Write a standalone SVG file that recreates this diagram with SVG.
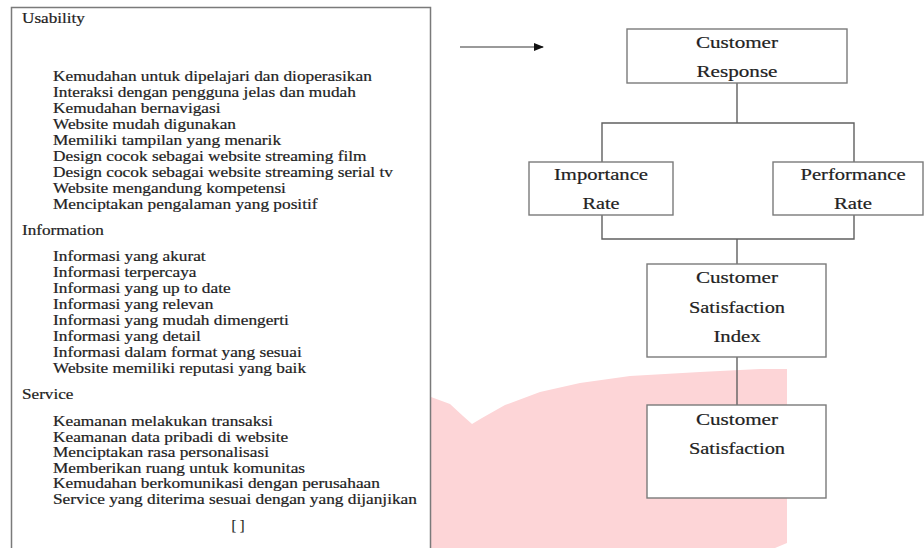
<svg xmlns="http://www.w3.org/2000/svg" width="924" height="548" viewBox="0 0 924 548">
<defs>
<style>
.t{font-family:"Liberation Serif","Times New Roman",serif;font-size:14.3px;fill:#222;stroke:#222;stroke-width:0.2}
.n{font-family:"Liberation Serif","Times New Roman",serif;font-size:16px;fill:#222;stroke:#222;stroke-width:0.2;text-anchor:middle}
.box{fill:#fff;stroke:#7a7a7a;stroke-width:1.4}
.c{fill:none;stroke:#606060;stroke-width:1.4}
</style>
<marker id="ah" markerWidth="10" markerHeight="8" refX="9" refY="4" orient="auto" markerUnits="userSpaceOnUse">
<path d="M0,0 L10,4 L0,8 Z" fill="#111"/>
</marker>
</defs>
<rect width="924" height="548" fill="#fff"/>
<path d="M431,397 L450,404 L463,416 L472,424 L482,418 L505,405 L540,392 L580,383 L630,376 L700,372 L760,369 L787,369 L787,543 L775,548 L431,548 Z" fill="#fdd5d7"/>
<g id="left-panel">
<rect x="11.5" y="7.5" width="419" height="560" fill="none" stroke="#7a7a7a" stroke-width="1.5"/>
<g transform="translate(22 0) scale(1.2 1)">
<text class="t" x="0" y="23">Usability</text>
<text class="t" x="0" y="235">Information</text>
<text class="t" x="0" y="399">Service</text>
</g>
<g transform="translate(53 0) scale(1.21 1)">
<text class="t" x="0" y="81">Kemudahan untuk dipelajari dan dioperasikan</text>
<text class="t" x="0" y="97">Interaksi dengan pengguna jelas dan mudah</text>
<text class="t" x="0" y="113">Kemudahan bernavigasi</text>
<text class="t" x="0" y="129">Website mudah digunakan</text>
<text class="t" x="0" y="145">Memiliki tampilan yang menarik</text>
<text class="t" x="0" y="161">Design cocok sebagai website streaming film</text>
<text class="t" x="0" y="177">Design cocok sebagai website streaming serial tv</text>
<text class="t" x="0" y="193">Website mengandung kompetensi</text>
<text class="t" x="0" y="209">Menciptakan pengalaman yang positif</text>
<text class="t" x="0" y="261">Informasi yang akurat</text>
<text class="t" x="0" y="277">Informasi terpercaya</text>
<text class="t" x="0" y="293">Informasi yang up to date</text>
<text class="t" x="0" y="309">Informasi yang relevan</text>
<text class="t" x="0" y="325">Informasi yang mudah dimengerti</text>
<text class="t" x="0" y="341">Informasi yang detail</text>
<text class="t" x="0" y="357">Informasi dalam format yang sesuai</text>
<text class="t" x="0" y="373">Website memiliki reputasi yang baik</text>
<text class="t" x="0" y="426">Keamanan melakukan transaksi</text>
<text class="t" x="0" y="442">Keamanan data pribadi di website</text>
<text class="t" x="0" y="457">Menciptakan rasa personalisasi</text>
<text class="t" x="0" y="473">Memberikan ruang untuk komunitas</text>
<text class="t" x="0" y="488">Kemudahan berkomunikasi dengan perusahaan</text>
<text class="t" x="0" y="504">Service yang diterima sesuai dengan yang dijanjikan</text>
</g>
<text class="t" x="238" y="530" text-anchor="middle">[ ]</text>
</g>
<g id="connectors">
<line x1="460" y1="47" x2="543" y2="47" stroke="#9a9a9a" stroke-width="2" marker-end="url(#ah)"/>
<path class="c" d="M737,83 V123 M602,162 V123 H854 V162"/>
<path class="c" d="M602,215 V239 H854 V215 M737,239 V264"/>
<path class="c" d="M737,357 V405"/>
</g>
<g id="customer-response">
<rect class="box" x="627" y="29" width="220" height="54"/>
<text class="n" x="737" y="48" textLength="82" lengthAdjust="spacingAndGlyphs">Customer</text>
<text class="n" x="737" y="77" textLength="81" lengthAdjust="spacingAndGlyphs">Response</text>
</g>
<g id="importance-rate">
<rect class="box" x="529" y="162" width="144" height="53"/>
<text class="n" x="601" y="180" textLength="94" lengthAdjust="spacingAndGlyphs">Importance</text>
<text class="n" x="601" y="209" textLength="37" lengthAdjust="spacingAndGlyphs">Rate</text>
</g>
<g id="performance-rate">
<rect class="box" x="773" y="162" width="150" height="53"/>
<text class="n" x="853" y="180" textLength="105" lengthAdjust="spacingAndGlyphs">Performance</text>
<text class="n" x="853" y="209" textLength="38" lengthAdjust="spacingAndGlyphs">Rate</text>
</g>
<g id="customer-satisfaction-index">
<rect class="box" x="647" y="264" width="179" height="93"/>
<text class="n" x="737" y="283" textLength="82" lengthAdjust="spacingAndGlyphs">Customer</text>
<text class="n" x="737" y="313" textLength="96" lengthAdjust="spacingAndGlyphs">Satisfaction</text>
<text class="n" x="737" y="342" textLength="47" lengthAdjust="spacingAndGlyphs">Index</text>
</g>
<g id="customer-satisfaction">
<rect class="box" x="647" y="405" width="179" height="93"/>
<text class="n" x="737" y="425" textLength="82" lengthAdjust="spacingAndGlyphs">Customer</text>
<text class="n" x="737" y="454" textLength="96" lengthAdjust="spacingAndGlyphs">Satisfaction</text>
</g>
</svg>
